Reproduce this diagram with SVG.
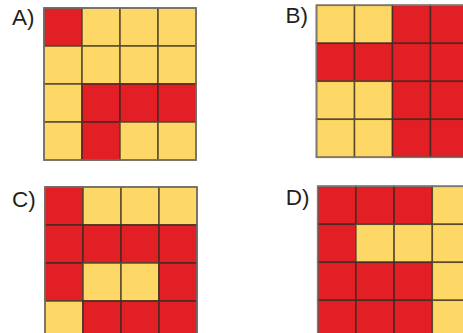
<svg xmlns="http://www.w3.org/2000/svg" width="463" height="333" viewBox="0 0 463 333">
<style>
.r{fill:#e31f26;stroke:#4a2a22;stroke-width:1.5}
.y{fill:#fdd866;stroke:#5a4a30;stroke-width:1.5}
.frame{fill:none;stroke:#7a7670;stroke-width:1.5}
.lbl{font-family:"Liberation Sans",Arial,sans-serif;font-size:22.5px;fill:#231f20}
</style>
<rect width="463" height="333" fill="#ffffff"/>
<g id="gridA" transform="translate(44,8)">
<text class="lbl" x="-32" y="17">A)</text>
<rect class="r" x="0" y="0" width="38" height="38"/><rect class="y" x="38" y="0" width="38" height="38"/><rect class="y" x="76" y="0" width="38" height="38"/><rect class="y" x="114" y="0" width="38" height="38"/>
<rect class="y" x="0" y="38" width="38" height="38"/><rect class="y" x="38" y="38" width="38" height="38"/><rect class="y" x="76" y="38" width="38" height="38"/><rect class="y" x="114" y="38" width="38" height="38"/>
<rect class="y" x="0" y="76" width="38" height="38"/><rect class="r" x="38" y="76" width="38" height="38"/><rect class="r" x="76" y="76" width="38" height="38"/><rect class="r" x="114" y="76" width="38" height="38"/>
<rect class="y" x="0" y="114" width="38" height="38"/><rect class="r" x="38" y="114" width="38" height="38"/><rect class="y" x="76" y="114" width="38" height="38"/><rect class="y" x="114" y="114" width="38" height="38"/>
<rect class="frame" x="0" y="0" width="152" height="152"/>
</g>
<g id="gridB" transform="translate(316.5,5.3)">
<text class="lbl" x="-31" y="17.5">B)</text>
<rect class="y" x="0" y="0" width="38" height="38"/><rect class="y" x="38" y="0" width="38" height="38"/><rect class="r" x="76" y="0" width="38" height="38"/><rect class="r" x="114" y="0" width="38" height="38"/>
<rect class="r" x="0" y="38" width="38" height="38"/><rect class="r" x="38" y="38" width="38" height="38"/><rect class="r" x="76" y="38" width="38" height="38"/><rect class="r" x="114" y="38" width="38" height="38"/>
<rect class="y" x="0" y="76" width="38" height="38"/><rect class="y" x="38" y="76" width="38" height="38"/><rect class="r" x="76" y="76" width="38" height="38"/><rect class="r" x="114" y="76" width="38" height="38"/>
<rect class="y" x="0" y="114" width="38" height="38"/><rect class="y" x="38" y="114" width="38" height="38"/><rect class="r" x="76" y="114" width="38" height="38"/><rect class="r" x="114" y="114" width="38" height="38"/>
<rect class="frame" x="0" y="0" width="152" height="152"/>
</g>
<g id="gridC" transform="translate(45,187)">
<text class="lbl" x="-33" y="19.5">C)</text>
<rect class="r" x="0" y="0" width="38" height="38"/><rect class="y" x="38" y="0" width="38" height="38"/><rect class="y" x="76" y="0" width="38" height="38"/><rect class="y" x="114" y="0" width="38" height="38"/>
<rect class="r" x="0" y="38" width="38" height="38"/><rect class="r" x="38" y="38" width="38" height="38"/><rect class="r" x="76" y="38" width="38" height="38"/><rect class="r" x="114" y="38" width="38" height="38"/>
<rect class="r" x="0" y="76" width="38" height="38"/><rect class="y" x="38" y="76" width="38" height="38"/><rect class="y" x="76" y="76" width="38" height="38"/><rect class="r" x="114" y="76" width="38" height="38"/>
<rect class="y" x="0" y="114" width="38" height="38"/><rect class="r" x="38" y="114" width="38" height="38"/><rect class="r" x="76" y="114" width="38" height="38"/><rect class="r" x="114" y="114" width="38" height="38"/>
<rect class="frame" x="0" y="0" width="152" height="152"/>
</g>
<g id="gridD" transform="translate(317.7,186.3)">
<text class="lbl" x="-32" y="19">D)</text>
<rect class="r" x="0" y="0" width="38.2" height="38"/><rect class="r" x="38.2" y="0" width="38.2" height="38"/><rect class="r" x="76.4" y="0" width="38.2" height="38"/><rect class="y" x="114.6" y="0" width="38.2" height="38"/>
<rect class="r" x="0" y="38" width="38.2" height="38"/><rect class="y" x="38.2" y="38" width="38.2" height="38"/><rect class="y" x="76.4" y="38" width="38.2" height="38"/><rect class="y" x="114.6" y="38" width="38.2" height="38"/>
<rect class="r" x="0" y="76" width="38.2" height="38"/><rect class="r" x="38.2" y="76" width="38.2" height="38"/><rect class="r" x="76.4" y="76" width="38.2" height="38"/><rect class="y" x="114.6" y="76" width="38.2" height="38"/>
<rect class="r" x="0" y="114" width="38.2" height="38"/><rect class="r" x="38.2" y="114" width="38.2" height="38"/><rect class="r" x="76.4" y="114" width="38.2" height="38"/><rect class="y" x="114.6" y="114" width="38.2" height="38"/>
<rect class="frame" x="0" y="0" width="152.8" height="152"/>
</g>
</svg>
